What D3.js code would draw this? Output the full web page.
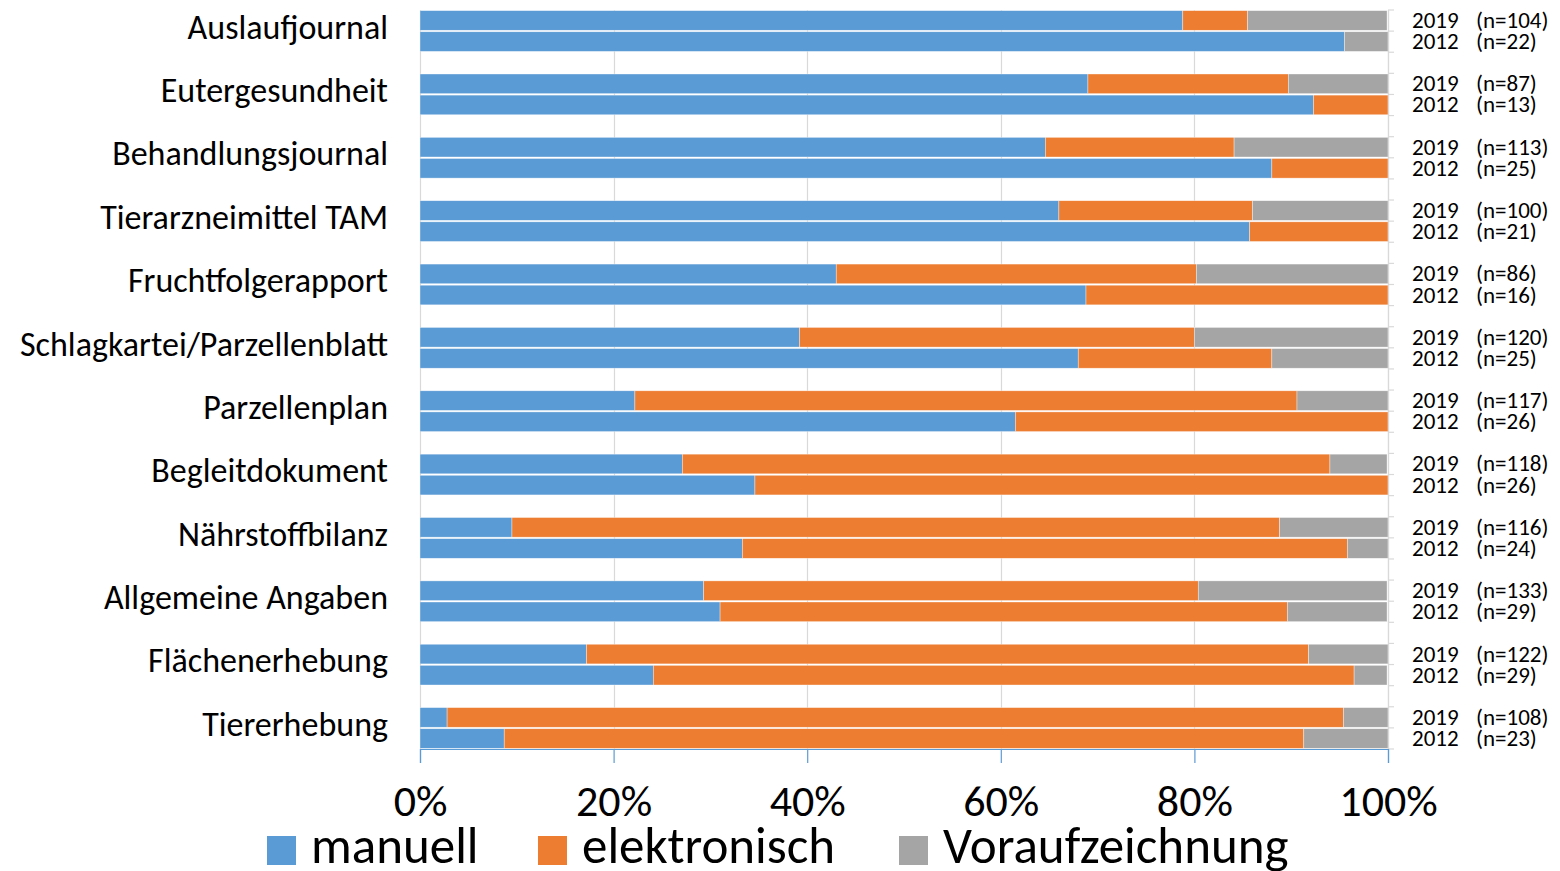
<!DOCTYPE html>
<html lang="de">
<head>
<meta charset="UTF-8">
<title>Aufzeichnungen manuell / elektronisch</title>
<style>
  body { margin: 0; background: #fff; }
  svg text { font-family: Carlito, Lato, "Open Sans", sans-serif; fill: #000; }
</style>
<script src="https://cdn.jsdelivr.net/npm/d3@7/dist/d3.min.js"></script>
</head>
<body>
<div id="chart"></div>
<script>
// categories, top to bottom
var categories = ["Auslaufjournal", "Eutergesundheit", "Behandlungsjournal", "Tierarzneimittel TAM",
  "Fruchtfolgerapport", "Schlagkartei/Parzellenblatt", "Parzellenplan", "Begleitdokument",
  "Nährstoffbilanz", "Allgemeine Angaben", "Flächenerhebung", "Tiererhebung"];
var years = ["2019", "2012"];
var series = ["manuell", "elektronisch", "Voraufzeichnung"];
var colors = ["#5b9bd5", "#ed7d31", "#a5a5a5"];

// sample sizes
var n2019 = [104, 87, 113, 100, 86, 120, 117, 118, 116, 133, 122, 108];
var n2012 = [22, 13, 25, 21, 16, 25, 26, 26, 24, 29, 29, 23];

// shares in percent [manuell, elektronisch, Voraufzeichnung]
var share2019 = [
  [78.8, 6.7, 14.4], [69.0, 20.7, 10.3], [64.6, 19.5, 15.9], [66.0, 20.0, 14.0],
  [43.0, 37.2, 19.8], [39.2, 40.8, 20.0], [22.2, 68.4, 9.4], [27.1, 66.9, 5.9],
  [9.5, 79.3, 11.2], [29.3, 51.1, 19.5], [17.2, 74.6, 8.2], [2.8, 92.6, 4.6]
];
var share2012 = [
  [95.5, 0, 4.5], [92.3, 7.7, 0], [88.0, 12.0, 0], [85.7, 14.3, 0],
  [68.8, 31.2, 0], [68.0, 20.0, 12.0], [61.5, 38.5, 0], [34.6, 65.4, 0],
  [33.3, 62.5, 4.2], [31.0, 58.6, 10.3], [24.1, 72.4, 3.4], [8.7, 82.6, 8.7]
];
var xTicks = [0, 20, 40, 60, 80, 100];

var width = 1560, height = 871;
var plot = {left: 420, right: 1388, top: 10, bottom: 749};

// one slot per bar plus an empty slot between groups
var rows = [];
categories.forEach(function(c, g) {
  rows.push({slot: g * 3, cat: c, year: years[0], n: n2019[g], vals: share2019[g]});
  rows.push({slot: g * 3 + 1, cat: c, year: years[1], n: n2012[g], vals: share2012[g]});
});
var nSlots = categories.length * 3 - 1;

var x = d3.scaleLinear().domain([0, 100]).range([plot.left, plot.right]);
var y = d3.scaleBand().domain(d3.range(nSlots)).range([plot.top, plot.bottom])
  .paddingInner(0.07).paddingOuter(0.03);

var svg = d3.select("#chart").append("svg")
  .attr("width", width).attr("height", height);

// gridlines
svg.append("g").selectAll("line")
  .data(xTicks).enter().append("line")
  .attr("x1", function(d) { return Math.round(x(d)) + 0.5; })
  .attr("x2", function(d) { return Math.round(x(d)) + 0.5; })
  .attr("y1", plot.top).attr("y2", plot.bottom)
  .attr("stroke", "#d9d9d9").attr("stroke-width", 1.2);

// bars
var barG = svg.append("g").selectAll("g")
  .data(rows).enter().append("g");

barG.selectAll("rect")
  .data(function(r) {
    var acc = 0;
    return r.vals.map(function(v, i) {
      var s = {x0: acc, x1: acc + v, i: i, slot: r.slot};
      acc += v;
      return s;
    }).filter(function(s) { return s.x1 > s.x0; });
  })
  .enter().append("rect")
  .attr("x", function(s) { return x(s.x0); })
  .attr("width", function(s) { return x(Math.min(100, s.x1)) - x(s.x0); })
  .attr("y", function(s) { return y(s.slot); })
  .attr("height", y.bandwidth())
  .attr("fill", function(s) { return colors[s.i]; })
  .attr("stroke", "#ffffff").attr("stroke-width", 0.6).attr("stroke-opacity", 0.6);

// right axis with ticks at slot boundaries
var rightAxis = svg.append("g");
rightAxis.append("line")
  .attr("x1", plot.right + 0.5).attr("x2", plot.right + 0.5)
  .attr("y1", plot.top).attr("y2", plot.bottom)
  .attr("stroke", "#d9d9d9").attr("stroke-width", 1.2);
var step = (plot.bottom - plot.top) / nSlots;
rightAxis.selectAll("line.tick")
  .data(d3.range(nSlots + 1)).enter().append("line")
  .attr("class", "tick")
  .attr("x1", plot.right).attr("x2", plot.right + 6)
  .attr("y1", function(i) { return plot.top + i * step; })
  .attr("y2", function(i) { return plot.top + i * step; })
  .attr("stroke", "#d9d9d9").attr("stroke-width", 1.2);

var rLab = svg.append("g").selectAll("g")
  .data(rows).enter().append("g")
  .attr("transform", function(r) { return "translate(0," + (y(r.slot) + y.bandwidth() / 2 + 7.5) + ")"; });
rLab.append("text")
  .attr("x", 1412)
  .style("font-size", "23px")
  .text(function(r) { return r.year; });
rLab.append("text")
  .attr("x", 1476)
  .style("font-size", "23px")
  .text(function(r) { return "(n=" + r.n + ")"; });

// category labels
svg.append("g").selectAll("text")
  .data(categories).enter().append("text")
  .attr("x", 388)
  .attr("y", function(c, g) { return y(g * 3 + 1) + 7; })
  .attr("text-anchor", "end")
  .style("font-size", "34px")
  .text(function(c) { return c; });

// bottom axis
var xAxis = svg.append("g")
  .attr("transform", "translate(0," + plot.bottom + ")")
  .call(d3.axisBottom(x).tickValues(xTicks).tickSize(14)
    .tickFormat(function(d) { return d + "%"; }));
xAxis.select(".domain").attr("stroke", "#5b9bd5").attr("stroke-width", 1.2);
xAxis.selectAll(".tick line").attr("stroke", "#5b9bd5").attr("stroke-width", 1.2);
xAxis.selectAll(".tick text")
  .attr("y", 0).attr("dy", 0)
  .attr("transform", "translate(0,67)")
  .style("font-family", "Carlito, Lato, 'Open Sans', sans-serif")
  .style("font-size", "44px").attr("fill", "#000");

// legend
var legendX = [267, 538, 899];
var leg = svg.append("g").selectAll("g")
  .data(series).enter().append("g")
  .attr("transform", function(s, i) { return "translate(" + legendX[i] + ",836)"; });
leg.append("rect")
  .attr("width", 29).attr("height", 29)
  .attr("fill", function(s, i) { return colors[i]; });
leg.append("text")
  .attr("x", 44).attr("y", 27)
  .style("font-size", "51px")
  .text(function(s) { return s; });
</script>
</body>
</html>
